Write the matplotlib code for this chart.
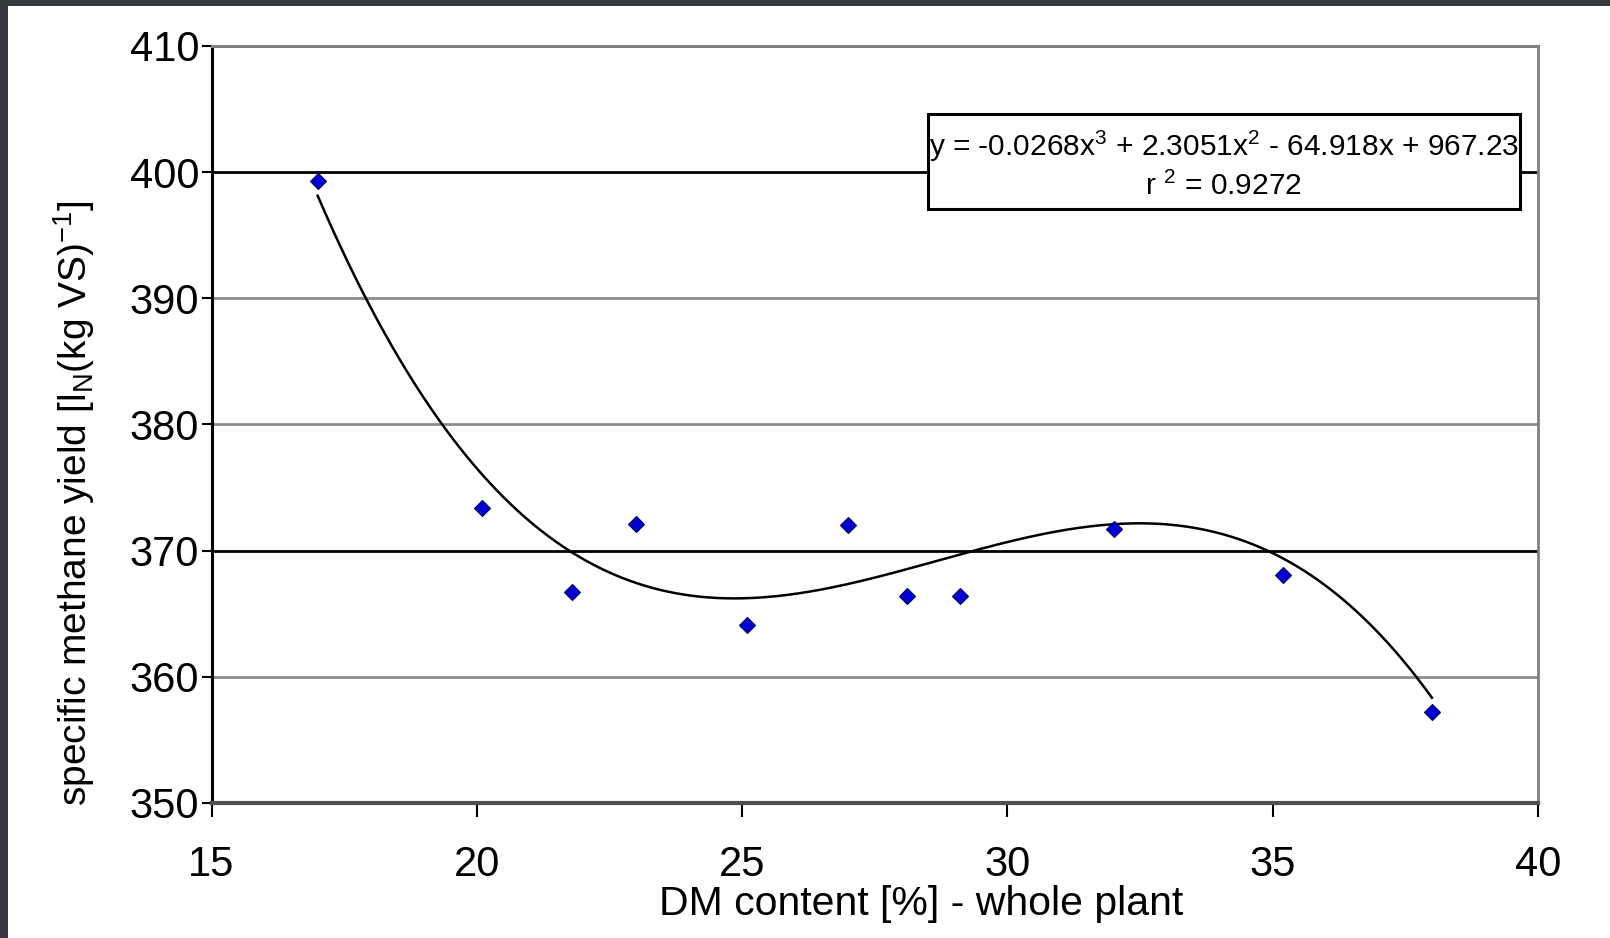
import numpy as np
import matplotlib
matplotlib.use("Agg")
import matplotlib.pyplot as plt
from matplotlib.patches import Rectangle

plt.rcParams['font.family'] = ['Liberation Sans', 'DejaVu Sans']

# 数据点
dm_content = [17.0, 20.1, 21.8, 23.0, 25.1, 27.0, 28.1, 29.1, 32.0, 35.2, 38.0]
methane_yield = [399.3, 373.4, 366.7, 372.1, 364.1, 372.0, 366.4, 366.4, 371.7, 368.1, 357.2]

# 三次多项式趋势线系数 (图中公式)
coef = [-0.0268, 2.3051, -64.918, 967.23]
r2 = 0.9272

x_ticks = [15, 20, 25, 30, 35, 40]
y_ticks = [350, 360, 370, 380, 390, 400, 410]
dark_grid = [370, 400]

fig = plt.figure(figsize=(16.1, 9.38), dpi=100)
ax = fig.add_axes([0.1314, 0.144, 0.8239, 0.807])

xs = np.linspace(min(dm_content), max(dm_content), 300)
ax.plot(xs, np.polyval(coef, xs), color='black', linewidth=1.8, zorder=3)
ax.plot(dm_content, methane_yield, linestyle='none', marker='D', markersize=8,
        markerfacecolor='#0000d0', markeredgecolor='#000060', markeredgewidth=0.8, zorder=4)

ax.set_xlim(15, 40)
ax.set_ylim(350, 410)
ax.set_xticks(x_ticks)
ax.set_yticks(y_ticks)

ax.yaxis.grid(True, color='#8c8c8c', linewidth=2)
for val, gl in zip(y_ticks, ax.get_ygridlines()):
    if val in dark_grid:
        gl.set_color('black')
ax.set_axisbelow(True)

ax.tick_params(axis='x', direction='out', length=10, width=1.5, pad=20, labelsize=30)
ax.tick_params(axis='y', direction='out', length=7, width=1.5, pad=2, labelsize=30)

ax.spines['left'].set_color('black')
ax.spines['left'].set_linewidth(2.2)
ax.spines['top'].set_color('#808080')
ax.spines['top'].set_linewidth(2.2)
ax.spines['right'].set_color('#808080')
ax.spines['right'].set_linewidth(2)
ax.spines['bottom'].set_color('#505050')
ax.spines['bottom'].set_linewidth(3)

ax.set_xlabel('DM content [%] - whole plant', fontsize=29.5, va='top')
ax.xaxis.set_label_coords(0.535, -0.108)
ax.set_ylabel('specific methane yield [l$_\\mathregular{N}$(kg VS)$^\\mathregular{-1}$]', fontsize=28, va='center')
ax.yaxis.set_label_coords(-0.1037, 0.396)

# 公式框
ax.add_patch(Rectangle((0.540, 0.7847), 0.4464, 0.1253, transform=ax.transAxes,
                       facecolor='white', edgecolor='black', linewidth=2.2, zorder=5))
ax.text(0.763, 0.868, 'y = -0.0268x$^\\mathregular{3}$ + 2.3051x$^\\mathregular{2}$ - 64.918x + 967.23',
        transform=ax.transAxes, ha='center', va='center', fontsize=21.5, zorder=6)
ax.text(0.763, 0.815, 'r $^\\mathregular{2}$ = %.4f' % r2,
        transform=ax.transAxes, ha='center', va='center', fontsize=21.5, zorder=6)

# 截图的深色边框
fig.patches.append(Rectangle((0, 1 - 6 / 938), 1, 6 / 938, transform=fig.transFigure,
                             facecolor='#35393d', edgecolor='none'))
fig.patches.append(Rectangle((0, 0), 8 / 1610, 1, transform=fig.transFigure,
                             facecolor='#35393d', edgecolor='none'))

fig.savefig('out.png', dpi=100)
